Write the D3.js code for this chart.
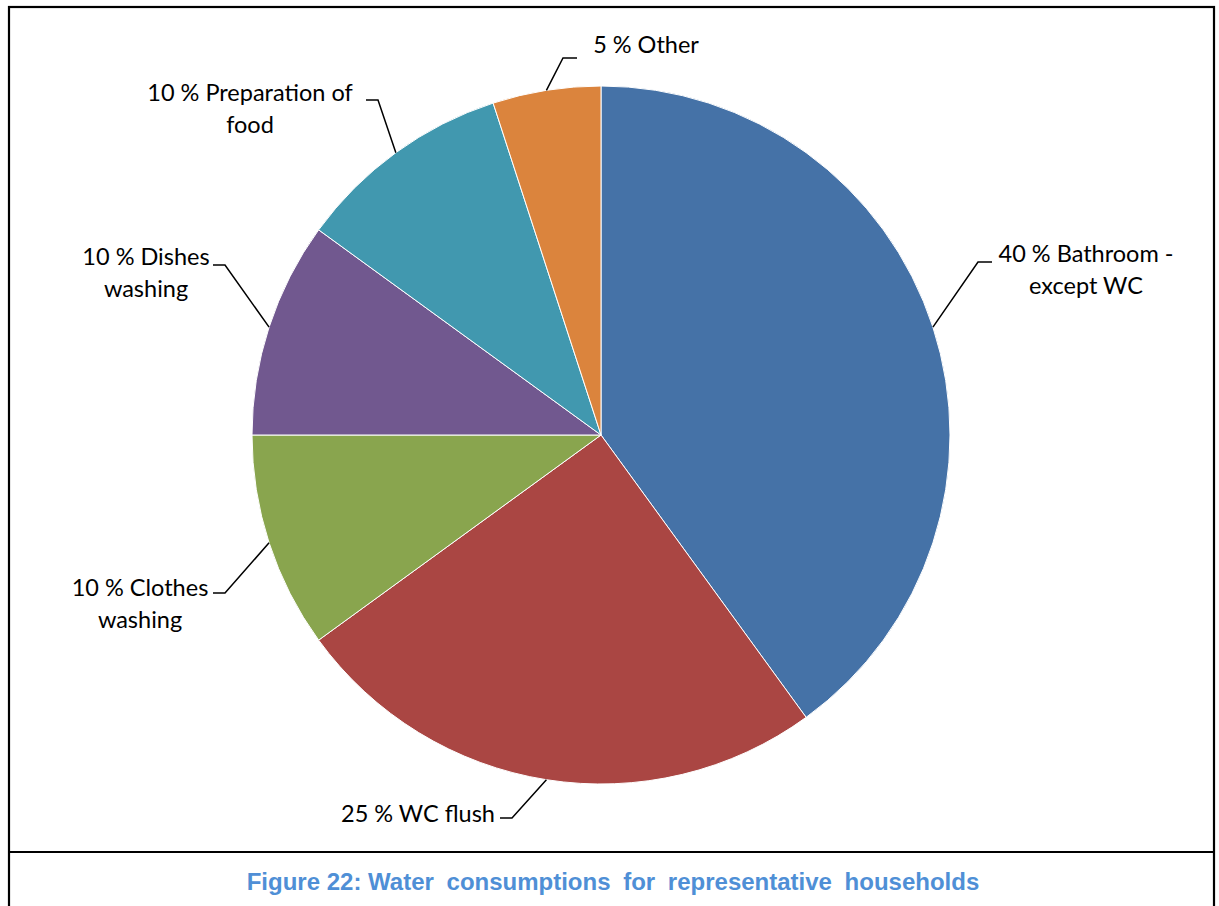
<!DOCTYPE html>
<html>
<head>
<meta charset="utf-8">
<script src="https://cdn.jsdelivr.net/npm/d3@7"></script>
<style>
  html, body { margin: 0; padding: 0; background: #fff; }
  svg { display: block; }
</style>
</head>
<body>
<svg id="chart" width="1219" height="906"></svg>
<script>
// Household water use shares (percent)
const categories = [
  "Bathroom - except WC",
  "WC flush",
  "Clothes washing",
  "Dishes washing",
  "Preparation of food",
  "Other"
];
const shares = [40, 25, 10, 10, 10, 5];
const sliceColors = ["#4572A7", "#AA4643", "#89A54E", "#71588F", "#4198AF", "#DB843D"];
// Label text, split into lines
const labelLines = [
  ["40 % Bathroom -", "except WC"],
  ["25 % WC flush"],
  ["10 % Clothes", "washing"],
  ["10 % Dishes", "washing"],
  ["10 % Preparation of", "food"],
  ["5 % Other"]
];
// Caption in two runs: the lead-in with normal spacing, the rest justified wider
const captionParts = ["Figure 22: Water", "consumptions for representative households"];

// Label placement: text block centre and leader elbow, relative to pie centre
const labelLayout = [
  { tx: 485, ty: -181, ex: 377, ey: -173, side: "right" },
  { tx: -183, ty: 379, ex: -89, ey: 383, side: "left" },
  { tx: -461, ty: 153, ex: -376, ey: 158, side: "left" },
  { tx: -455, ty: -178, ex: -376, ey: -170, side: "left" },
  { tx: -351, ty: -342, ex: -223, ey: -335, side: "left" },
  { tx: 45, ty: -390, ex: -38, ey: -377, side: "right" }
];

const svg = d3.select("#chart");

// Frame and caption divider
svg.append("rect")
  .attr("x", 9).attr("y", 7)
  .attr("width", 1205).attr("height", 910)
  .attr("fill", "none").attr("stroke", "#000").attr("stroke-width", 2.2);
svg.append("line")
  .attr("x1", 9).attr("x2", 1214)
  .attr("y1", 852).attr("y2", 852)
  .attr("stroke", "#000").attr("stroke-width", 2.2);

const cx = 601, cy = 435, R = 349;
const g = svg.append("g").attr("transform", `translate(${cx},${cy})`);

const data = categories.map((c, i) => ({ name: c, value: shares[i], i }));
const pie = d3.pie().value(d => d.value).sort(null);
const arc = d3.arc().innerRadius(0).outerRadius(R);
const arcs = pie(data);

g.selectAll("path.slice")
  .data(arcs)
  .join("path")
  .attr("class", "slice")
  .attr("d", arc)
  .attr("fill", d => sliceColors[d.data.i])
  .attr("stroke", "#fff")
  .attr("stroke-width", 1);

// Leader lines: slice edge at mid-angle -> elbow -> short horizontal
const font = "Lato, 'Open Sans', sans-serif";
const fontSize = 23.5;
const lineH = 32;

arcs.forEach(d => {
  const i = d.data.i;
  const L = labelLayout[i];
  const mid = (d.startAngle + d.endAngle) / 2;
  const px = R * Math.sin(mid), py = -R * Math.cos(mid);
  const hx = L.side === "right" ? L.ex + 14 : L.ex - 12;
  g.append("path")
    .attr("d", `M${px},${py}L${L.ex},${L.ey}L${hx},${L.ey}`)
    .attr("fill", "none")
    .attr("stroke", "#000")
    .attr("stroke-width", 1.5);

  const lines = labelLines[i];
  const t = g.append("text")
    .attr("font-family", font)
    .attr("font-size", fontSize)
    .attr("fill", "#000")
    .attr("text-anchor", "middle");
  lines.forEach((s, k) => {
    t.append("tspan")
      .attr("x", L.tx)
      .attr("y", L.ty + 8 + k * lineH)
      .text(s);
  });
});

// Caption
const cap = svg.append("text")
  .attr("x", 613).attr("y", 890)
  .attr("text-anchor", "middle")
  .attr("font-family", "'Liberation Sans', Arial, sans-serif")
  .attr("font-weight", "bold")
  .attr("font-size", 24)
  .attr("fill", "#4F8FD6")
  .attr("xml:space", "preserve");
cap.append("tspan").text(captionParts[0] + " ");
cap.append("tspan").attr("dx", 6).attr("word-spacing", 6).text(captionParts[1]);
</script>
</body>
</html>
